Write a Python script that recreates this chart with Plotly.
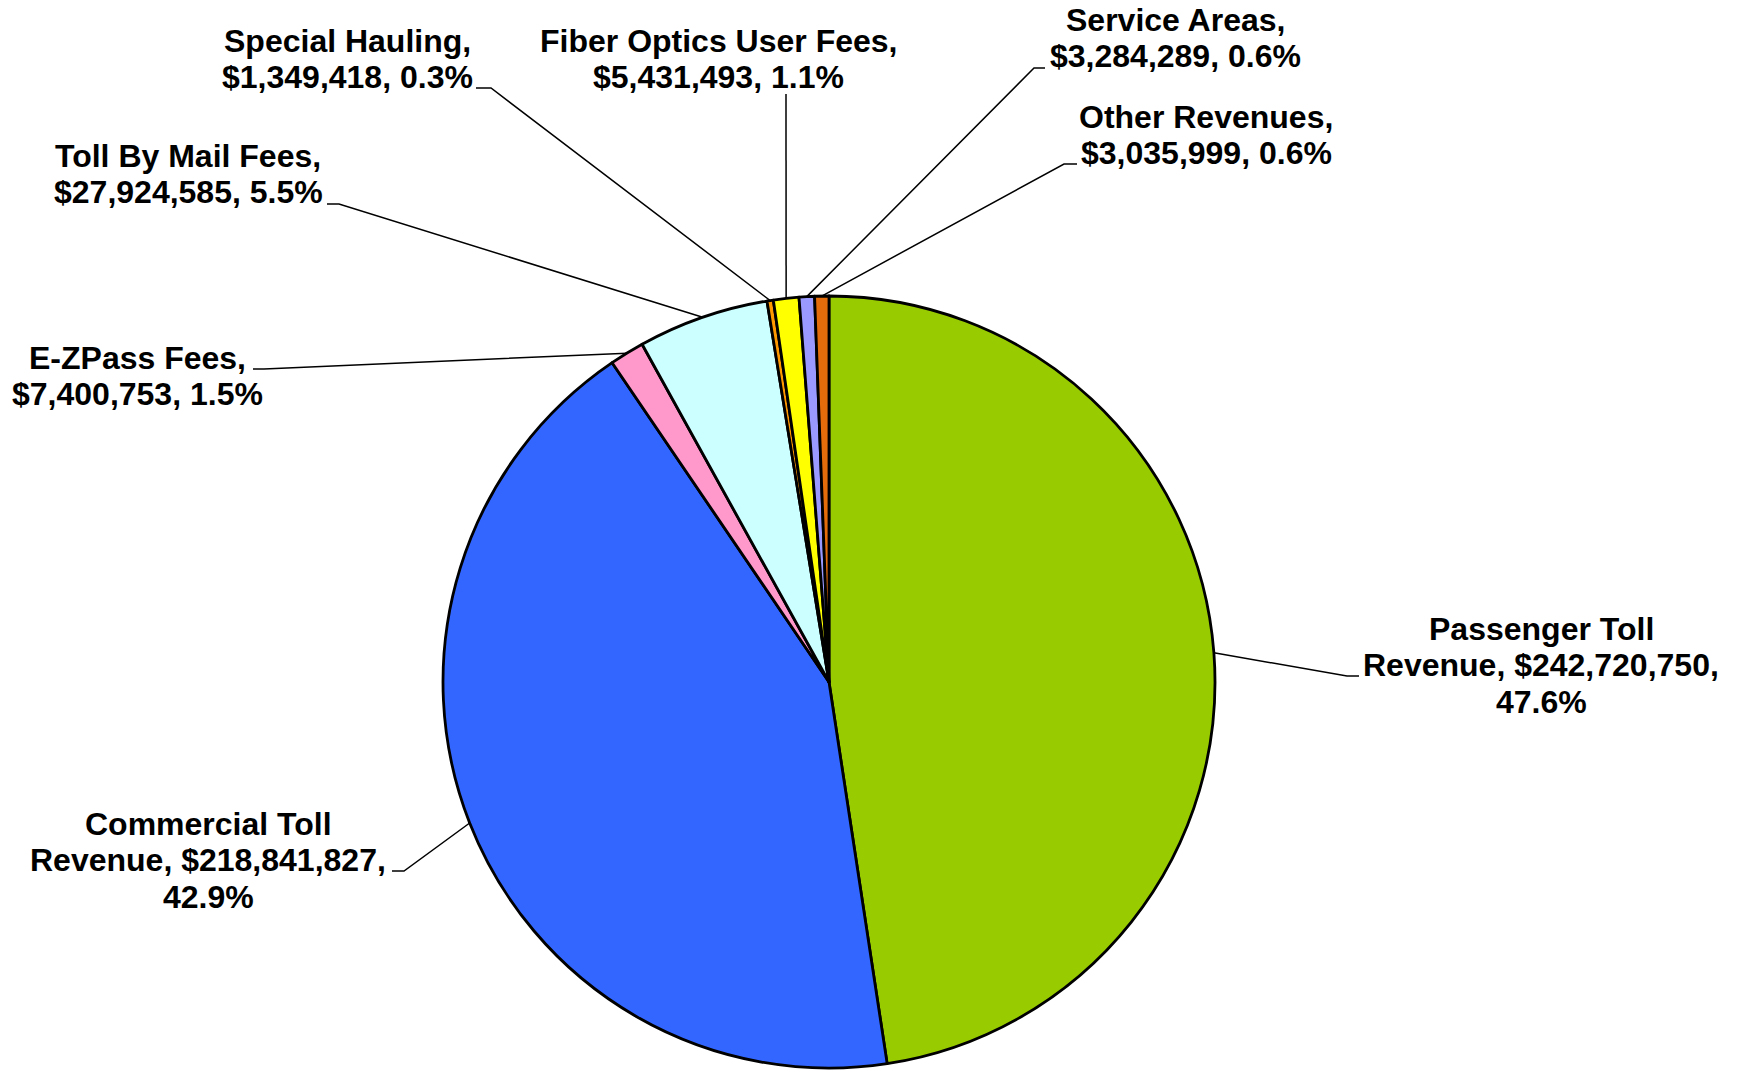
import math
import plotly.graph_objects as go

# ---- data ----
categories = [
    "Passenger Toll Revenue",
    "Commercial Toll Revenue",
    "E-ZPass Fees",
    "Toll By Mail Fees",
    "Special Hauling",
    "Fiber Optics User Fees",
    "Service Areas",
    "Other Revenues",
]
values = [242720750, 218841827, 7400753, 27924585, 1349418, 5431493, 3284289, 3035999]
colors = ["#99CC00", "#3366FF", "#FF99CC", "#CCFFFF", "#FF9900", "#FFFF00", "#9999FF", "#E46C0A"]

# ---- layout constants (pixels) ----
W, H = 1741, 1070
CX, CY, R = 829, 682, 386
FONT_SIZE = 32
LINE_SP = 36.5

# label placement: center x, first baseline y, label-side elbow (x, y), horizontal end x
label_layout = {
    "Passenger Toll Revenue": dict(cx=1541, by=640, elbow=(1347, 676), end=1359, wrap=3),
    "Commercial Toll Revenue": dict(cx=208, by=835, elbow=(404, 871), end=392, wrap=3),
    "E-ZPass Fees": dict(cx=137, by=369, elbow=(264, 369), end=253, wrap=2),
    "Toll By Mail Fees": dict(cx=188, by=167, elbow=(339, 204), end=327, wrap=2),
    "Special Hauling": dict(cx=347, by=52, elbow=(491, 88), end=476, wrap=2),
    "Fiber Optics User Fees": dict(cx=718, by=52, elbow=(786, 94), end=786, wrap=2),
    "Service Areas": dict(cx=1175, by=31, elbow=(1034, 68), end=1045, wrap=2),
    "Other Revenues": dict(cx=1206, by=128, elbow=(1064, 164), end=1077, wrap=2),
}

total = sum(values)

def px_x(x):
    return x / W

def px_y(y):
    return 1 - y / H

fig = go.Figure()
fig.add_trace(go.Pie(
    labels=categories,
    values=values,
    sort=False,
    direction="clockwise",
    rotation=0,
    textinfo="none",
    hoverinfo="label+value+percent",
    marker=dict(colors=colors, line=dict(color="#000000", width=2.8)),
    showlegend=False,
    domain=dict(x=[px_x(CX - R), px_x(CX + R)], y=[px_y(CY + R), px_y(CY - R)]),
))

annotations = []
shapes = []
cum = 0.0
for name, v in zip(categories, values):
    frac = v / total
    mid = cum + frac / 2
    cum += frac
    ang = 2 * math.pi * mid
    sx = CX + R * math.sin(ang)
    sy = CY - R * math.cos(ang)
    lay = label_layout[name]
    pct = f"{frac * 100:.1f}%"
    money = f"${v:,}"
    if lay["wrap"] == 3:
        parts = name.split(" ")
        lines = [" ".join(parts[:2]), f"{parts[2]}, {money},", pct]
    else:
        lines = [f"{name},", f"{money}, {pct}"]
    for i, ln in enumerate(lines):
        baseline = lay["by"] + i * LINE_SP
        annotations.append(dict(
            x=px_x(lay["cx"]), y=px_y(baseline - 0.35 * FONT_SIZE),
            xref="paper", yref="paper", xanchor="center", yanchor="middle",
            text=ln, showarrow=False,
            font=dict(family="Liberation Sans, Arial, sans-serif", size=FONT_SIZE,
                      color="#000000", weight="bold"),
        ))
    ex, ey = lay["elbow"]
    hx = lay["end"]
    path = (f"M {px_x(sx)} {px_y(sy)} L {px_x(ex)} {px_y(ey)} "
            f"L {px_x(hx)} {px_y(ey)}")
    shapes.append(dict(type="path", path=path, xref="paper", yref="paper",
                       line=dict(color="#000000", width=1.5)))

fig.update_layout(
    width=W, height=H,
    margin=dict(l=0, r=0, t=0, b=0),
    paper_bgcolor="#FFFFFF",
    plot_bgcolor="#FFFFFF",
    annotations=annotations,
    shapes=shapes,
)

fig.write_html("out.html")
